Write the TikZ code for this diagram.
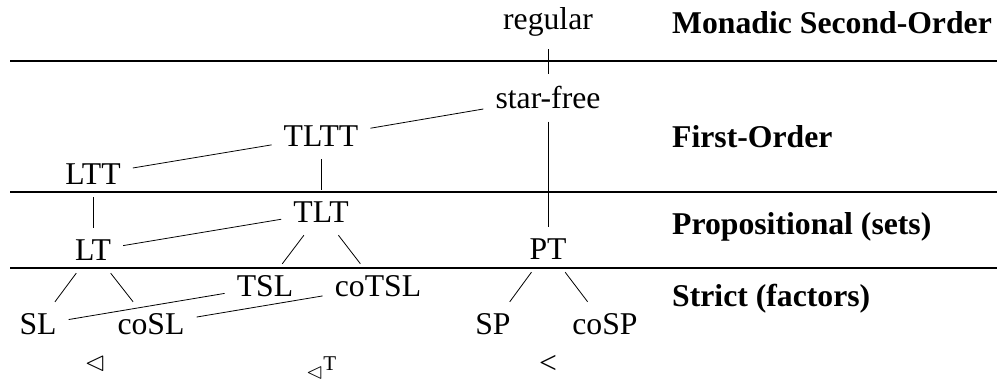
\documentclass[tikz,border=0pt]{standalone}
\usepackage{fontspec}
\setmainfont{Liberation Serif}
\usepackage{amssymb}
\usepackage{tikz}
\tikzstyle{cls} = [inner sep=12pt, anchor=base, font=\fontsize{31.7}{38}\selectfont]
\tikzstyle{logic} = [inner sep=0pt, anchor=base west, font=\fontsize{31.7}{38}\selectfont\bfseries]
\tikzstyle{order} = [inner sep=0pt, font=\fontsize{27}{30}\selectfont]
\tikzstyle{edge} = [line width=0.8pt]
\tikzstyle{rule} = [line width=1.6pt]

\begin{document}
\begin{tikzpicture}[x=1pt, y=-1pt]
      \useasboundingbox (0,0) rectangle (997,379);
      \draw [rule] (10,61) -- (997,61);
      \draw [rule] (10,192) -- (997,192);
      \draw [rule] (10,268) -- (997,268);
      \node (mso) [logic] at (672,34) {Monadic Second-Order};
      \node (fo) [logic] at (672,148) {First-Order};
      \node (prop) [logic] at (672,235) {Propositional (sets)};
      \node (strict) [logic] at (672,307) {Strict (factors)};
      \node (regular) [cls] at (548,30) {regular};
      \node (starfree) [cls] at (548,109) {star-free};
      \draw [edge] (regular) -- (starfree);
      \node (tltt) [cls] at (321,147) {TLTT};
      \draw [edge] (starfree) -- (tltt);
      \node (ltt) [cls] at (93,185) {LTT};
      \draw [edge] (tltt) -- (ltt);
      \node (tlt) [cls] at (321,223) {TLT};
      \draw [edge] (tltt) -- (tlt);
      \node (lt) [cls] at (93,261) {LT};
      \draw [edge] (ltt) -- (lt);
      \draw [edge] (tlt) -- (lt);
      \node (pt) [cls] at (548,260) {PT};
      \draw [edge] (starfree) -- (pt);
      \node (tsl) [cls] at (265,297) {TSL};
      \node (cotsl) [cls] at (378,297) {coTSL};
      \draw [edge] (tlt) -- (tsl);
      \draw [edge] (tlt) -- (cotsl);
      \node (sl) [cls] at (38,335) {SL};
      \node (cosl) [cls] at (151,335) {coSL};
      \draw [edge] (lt) -- (sl);
      \draw [edge] (lt) -- (cosl);
      \draw [edge] (tsl) -- (sl);
      \draw [edge] (cotsl) -- (cosl);
      \node (sp) [cls] at (493,335) {SP};
      \node (cosp) [cls] at (605,335) {coSP};
      \draw [edge] (pt) -- (sp);
      \draw [edge] (pt) -- (cosp);
      \node (slord) [order] at (95,364) {$\vartriangleleft$};
      \node (tslord) [order, anchor=base west, font=\fontsize{21}{24}\selectfont] at (306,379) {{\fontsize{22}{24}\selectfont$\vartriangleleft$}\raisebox{8pt}{T}};
      \node (spord) [cls, inner sep=0pt, anchor=center] at (548,364) {<};
    \end{tikzpicture}
\end{document}
